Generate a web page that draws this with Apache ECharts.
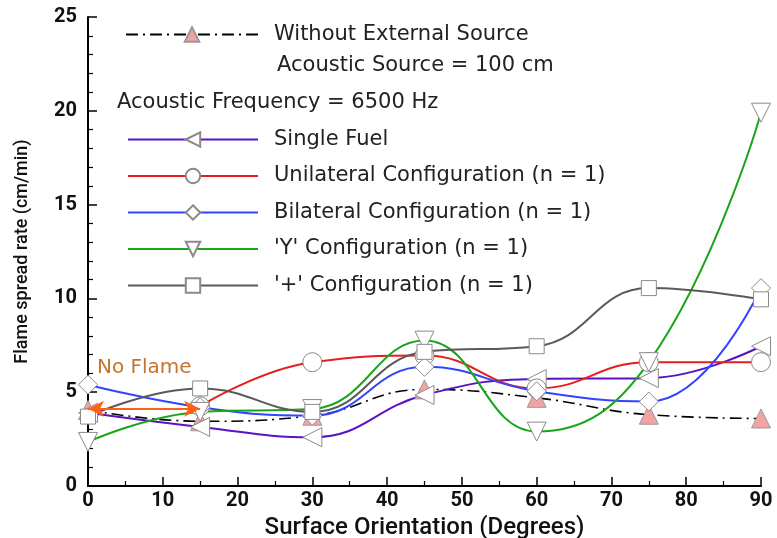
<!DOCTYPE html>
<html>
<head>
<meta charset="utf-8">
<script src="https://cdn.jsdelivr.net/npm/echarts@6/dist/echarts.min.js"></script>
<style>
  html, body { margin: 0; padding: 0; background: #fff; }
  #chart { width: 777px; height: 538px; }
</style>
</head>
<body>
<div id="chart"></div>
<script>
// surface orientation (degrees)
var degrees = [0, 15, 30, 45, 60, 75, 90];

// flame spread rate (cm/min)
var withoutSource = [4.05, 3.45, 3.75, 5.15, 4.7, 3.8, 3.6];
var singleFuel    = [3.9, 3.15, 2.6, 4.85, 5.7, 5.75, 7.45];
var unilateral    = [null, 4.25, 6.6, 6.95, 5.2, 6.6, 6.6];   // no flame at 0
var bilateral     = [5.4, 4.2, 3.75, 6.35, 5.05, 4.5, 10.55];
var yConfig       = [2.35, 3.95, 4.1, 7.75, 2.9, 6.6, 19.9];
var plusConfig    = [3.7, 5.2, 3.95, 7.15, 7.45, 10.55, 9.95];

var noFlameFrom = 0, noFlameTo = 15, noFlameRate = 4.12;

function pairs(ys) {
    return degrees.map(function (d, i) { return [d, ys[i]]; });
}

var markerStyle = { color: '#fff', borderColor: '#8a8a8a', borderWidth: 1 };

function curve(name, ys, color, symbol, rotate, size) {
    return {
        name: name,
        type: 'line',
        smooth: 0.45,
        data: pairs(ys),
        symbol: symbol,
        symbolRotate: rotate,
        symbolSize: size,
        showAllSymbol: true,
        lineStyle: { color: color, width: 2 },
        itemStyle: Object.assign({}, markerStyle),
        color: color
    };
}

var chart = echarts.init(document.getElementById('chart'));

var series = [
    {
        name: 'Without External Source',
        type: 'line',
        smooth: 0.45,
        data: pairs(withoutSource),
        symbol: 'triangle',
        symbolSize: 19,
        lineStyle: { color: '#000', width: 1.6, type: [12, 5, 2, 5] },
        itemStyle: { color: '#f4a3a3', borderColor: '#999', borderWidth: 1 },
        color: '#000',
        markLine: {
            silent: true,
            symbol: ['arrow', 'arrow'],
            symbolSize: [12, 16],
            lineStyle: { color: '#ff6112', width: 2, type: 'solid' },
            label: { show: false },
            data: [[{ coord: [noFlameFrom, noFlameRate] }, { coord: [noFlameTo, noFlameRate] }]]
        }
    },
    curve('Single Fuel', singleFuel, '#5a12c4', 'triangle', 90, 19),
    curve('Unilateral Configuration (n = 1)', unilateral, '#e61e1e', 'circle', 0, 19),
    curve('Bilateral Configuration (n = 1)', bilateral, '#3344ff', 'diamond', 0, 19),
    curve("'Y' Configuration (n = 1)", yConfig, '#17a617', 'triangle', 180, 19),
    curve("'+' Configuration (n = 1)", plusConfig, '#5a5a5a', 'rect', 0, 15)
];

var legendText = { fontFamily: 'DejaVu Sans', fontSize: 21, color: '#222', padding: [0, 0, 0, 11], lineHeight: 20 };
var noteFont = '21px "DejaVu Sans"';

chart.setOption({
    animation: false,
    backgroundColor: '#fff',
    grid: { left: 88, right: 16, top: 17, bottom: 52, outerBoundsMode: 'none' },
    legend: [
        {
            data: ['Without External Source'],
            left: 120,
            top: 19,
            itemWidth: 132,
            itemHeight: 18,
            textStyle: legendText
        },
        {
            data: ['Single Fuel', 'Unilateral Configuration (n = 1)', 'Bilateral Configuration (n = 1)',
                   "'Y' Configuration (n = 1)", "'+' Configuration (n = 1)"],
            orient: 'vertical',
            left: 122,
            top: 124,
            itemWidth: 130,
            itemHeight: 18,
            itemGap: 15.5,
            textStyle: legendText
        }
    ],
    graphic: [
        { type: 'text', left: 277, top: 55, style: { text: 'Acoustic Source = 100 cm', font: noteFont, fill: '#222' } },
        { type: 'text', left: 117, top: 92, style: { text: 'Acoustic Frequency = 6500 Hz', font: noteFont, fill: '#222' } },
        { type: 'text', left: 97, top: 358, style: { text: 'No Flame', font: '20px "DejaVu Sans"', fill: '#c4742c' } }
    ],
    xAxis: {
        type: 'value',
        min: 0,
        max: 90,
        interval: 10,
        name: 'Surface Orientation (Degrees)',
        nameLocation: 'middle',
        nameGap: 22,
        nameTextStyle: { fontFamily: 'Roboto', fontSize: 24, fontWeight: 500, color: '#111' },
        axisLine: { onZero: false, lineStyle: { color: '#000', width: 2 } },
        axisTick: { inside: true, length: 9, lineStyle: { color: '#000', width: 1.5 } },
        minorTick: { show: true, splitNumber: 2, length: 5, lineStyle: { color: '#000', width: 1.2 } },
        axisLabel: { margin: 5, fontFamily: 'Roboto', fontSize: 20, fontWeight: 'bold', color: '#111' },
        splitLine: { show: false }
    },
    yAxis: {
        type: 'value',
        min: 0,
        max: 25,
        interval: 5,
        name: 'Flame spread rate (cm/min)',
        nameLocation: 'middle',
        nameGap: 57,
        nameTextStyle: { fontFamily: 'Roboto', fontSize: 18, fontWeight: 500, color: '#111' },
        axisLine: { show: true, onZero: false, lineStyle: { color: '#000', width: 2 } },
        axisTick: { show: true, inside: true, length: 9, lineStyle: { color: '#000', width: 1.5 } },
        minorTick: { show: true, splitNumber: 5, length: 5, lineStyle: { color: '#000', width: 1.2 } },
        axisLabel: { margin: 11, fontFamily: 'Roboto', fontSize: 20, fontWeight: 'bold', color: '#111' },
        splitLine: { show: false }
    },
    series: series
});
</script>
</body>
</html>
